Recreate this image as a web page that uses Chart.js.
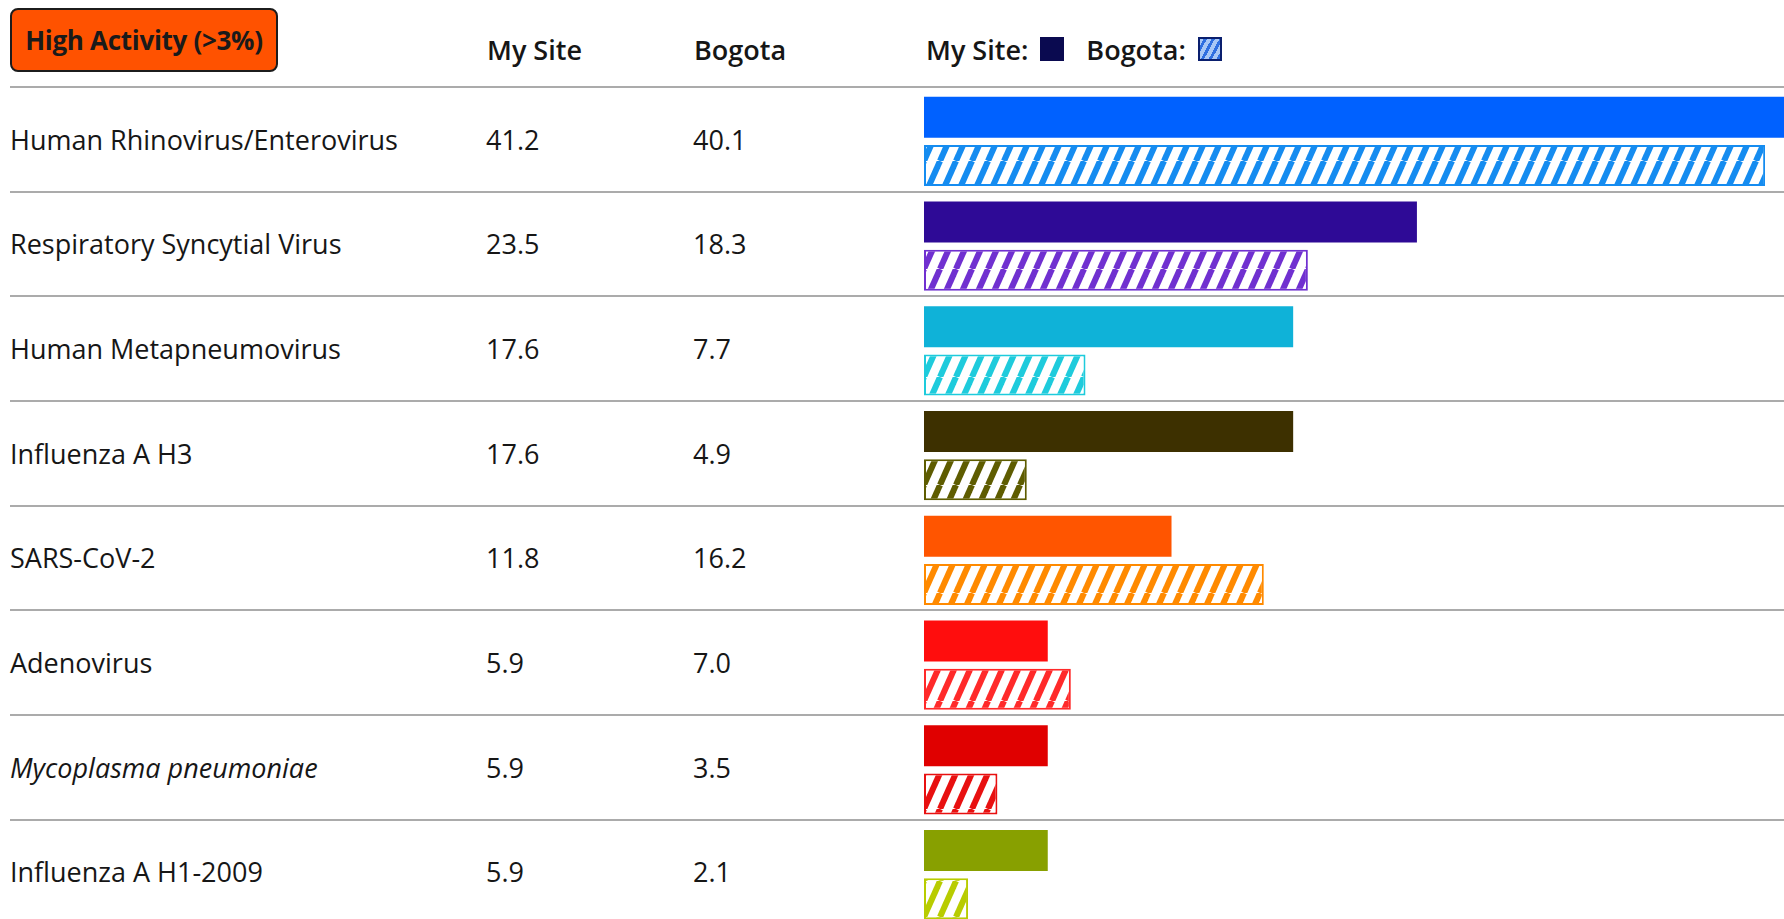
<!DOCTYPE html>
<html>
<head>
<meta charset="utf-8">
<script src="https://cdn.jsdelivr.net/npm/chart.js@4.4.1/dist/chart.umd.min.js"></script>
<style>
  html, body { margin: 0; padding: 0; background: #fff; overflow: hidden; }
  body { width: 1784px; height: 919px; position: relative; font-family: "Open Sans", sans-serif; color: #161616; }
  .badge {
    position: absolute; left: 10px; top: 8px; width: 268px; height: 64px; box-sizing: border-box;
    background: #ff5200; border: 2px solid #1c1c1c; border-radius: 8px;
    display: flex; align-items: center; justify-content: center;
    font-weight: 700; font-size: 26px; color: #1a1a1a; letter-spacing: -0.3px;
  }
  .head { position: absolute; top: 0; height: 98px; display: flex; align-items: center; font-weight: 600; font-size: 27px; }
  .sq { display: inline-block; width: 24px; height: 24px; box-sizing: border-box; margin: 0 22px 0 12px; }
  .row { position: absolute; left: 10px; right: 0; border-top: 2px solid #ababab; box-sizing: border-box; }
  .cell { position: absolute; top: 0; bottom: 0; display: flex; align-items: center; font-size: 27px; }
  #wrap { position: absolute; left: 924px; }
</style>
</head>
<body>
<div class="badge">High Activity (&gt;3%)</div>
<div class="head" style="left:487px">My Site</div>
<div class="head" style="left:694px">Bogota</div>
<div class="head" style="left:926px">My Site:<span class="sq" style="background:#0a0a50"></span>Bogota:<span class="sq" style="margin-right:0;border:2px solid #0a1f6e;background:repeating-linear-gradient(-62deg,#2f6fe0 0 3px,#a9c8f5 3px 7px)"></span></div>
<div id="rows"></div>
<div id="wrap"><canvas id="chart" width="860" height="838"></canvas></div>

<script>
const categories = ['Human Rhinovirus/Enterovirus', 'Respiratory Syncytial Virus', 'Human Metapneumovirus',
  'Influenza A H3', 'SARS-CoV-2', 'Adenovirus', 'Mycoplasma pneumoniae', 'Influenza A H1-2009'];
const italicLabels = ['Mycoplasma pneumoniae'];
const mySite = [41.2, 23.5, 17.6, 17.6, 11.8, 5.9, 5.9, 5.9];
const bogota = [40.1, 18.3, 7.7, 4.9, 16.2, 7.0, 3.5, 2.1];
const solidColors = ['#0061ff', '#2e0a96', '#0fb2d8', '#3d3000', '#ff5500', '#ff0d0d', '#e00000', '#88a000'];
const hatchColors = ['#158cf0', '#7030d0', '#1ecbdc', '#5e5c00', '#ff8a00', '#ff2a2a', '#e81010', '#b8cc00'];

const rowTop = 86;      // first separator line
const rowH = 104.65;

// table rows (text + separator lines)
const rows = document.getElementById('rows');
categories.forEach(function(name, i) {
  const r = document.createElement('div');
  r.className = 'row';
  r.style.top = (rowTop + i * rowH) + 'px';
  r.style.height = rowH + 'px';
  const style = italicLabels.includes(name) ? 'font-style:italic;' : '';
  r.innerHTML =
    '<div class="cell" style="left:0;' + style + '">' + name + '</div>' +
    '<div class="cell" style="left:476px">' + mySite[i].toFixed(1) + '</div>' +
    '<div class="cell" style="left:683px">' + bogota[i].toFixed(1) + '</div>';
  rows.appendChild(r);
});

// diagonal stripes for the Bogota bars
function hatch(color) {
  const c = document.createElement('canvas');
  c.width = 16; c.height = 36;
  const g = c.getContext('2d');
  g.fillStyle = '#fff';
  g.fillRect(0, 0, 16, 36);
  g.strokeStyle = color;
  g.lineWidth = 6;
  for (let k = -1; k <= 1; k++) {
    g.beginPath();
    g.moveTo(k * 16, 36);
    g.lineTo(k * 16 + 16, 0);
    g.stroke();
  }
  return g.createPattern(c, 'repeat');
}

const wrap = document.getElementById('wrap');
wrap.style.top = (rowTop + 3) + 'px';

const ctx = document.getElementById('chart').getContext('2d');
new Chart(ctx, {
  type: 'bar',
  data: {
    labels: categories,
    datasets: [{
      label: 'My Site',
      data: mySite,
      backgroundColor: solidColors,
      borderWidth: 0,
      categoryPercentage: 0.917,
      barPercentage: 0.854
    }, {
      label: 'Bogota',
      data: bogota,
      backgroundColor: hatchColors.map(hatch),
      borderColor: hatchColors,
      borderWidth: 2,
      borderSkipped: false,
      categoryPercentage: 0.917,
      barPercentage: 0.854
    }]
  },
  options: {
    indexAxis: 'y',
    responsive: false,
    animation: false,
    layout: { padding: 0 },
    plugins: { legend: { display: false }, tooltip: { enabled: false } },
    scales: {
      x: { display: false, min: 0, max: 41 },
      y: { display: false }
    }
  }
});
</script>
</body>
</html>
